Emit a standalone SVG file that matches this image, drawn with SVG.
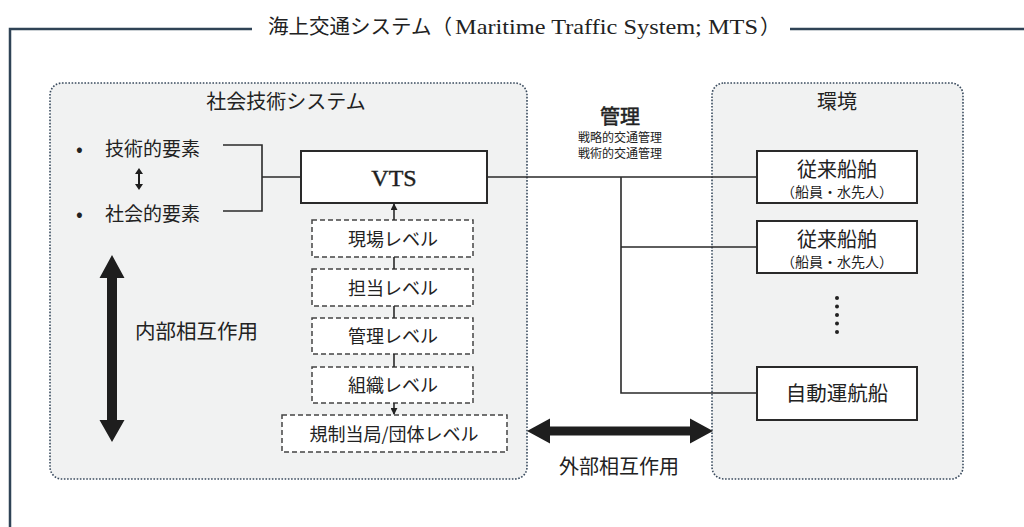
<svg xmlns="http://www.w3.org/2000/svg" width="1024" height="527" viewBox="0 0 1024 527">
  <defs>
    <marker id="tip" viewBox="0 0 8 8" refX="7" refY="4" markerWidth="7" markerHeight="7" markerUnits="userSpaceOnUse" orient="auto">
      <path d="M0,0 L8,4 L0,8 Z" fill="#222"/>
    </marker>
    <style>
      .frame { fill: none; stroke: #2f4356; stroke-width: 2.5; }
      .panel { fill: #f1f2f2; stroke: #3a4b5e; stroke-width: 1.6; stroke-dasharray: 1.6 1.6; }
      .box { fill: #fff; stroke: #2a2a2a; stroke-width: 2; }
      .level { fill: #fff; stroke: #444; stroke-width: 1.5; stroke-dasharray: 5 3; }
      .wire { fill: none; stroke: #2a2a2a; stroke-width: 1.6; }
      .jp { font-family: "Noto Sans CJK JP", "Noto Sans", sans-serif; fill: #222; }
      .serif { font-family: "Liberation Serif", "DejaVu Serif", serif; fill: #222; }
      .c { text-anchor: middle; }
      .big { font-size: 20px; }
      .mid { font-size: 18px; }
      .sub { font-size: 14px; }
      .tiny { font-size: 12px; }
      .thick { fill: #1e1e1e; }
    </style>
  </defs>
  <rect width="1024" height="527" fill="#fff"/>

  <!-- outer system frame with its title -->
  <g id="mts-frame">
    <path class="frame" d="M252,29 H10 V527"/>
    <path class="frame" d="M790,29 H1024"/>
    <text class="jp" x="268" y="34" font-size="20.5">海上交通システム（</text>
    <text class="serif" x="455" y="34" font-size="22" textLength="303" lengthAdjust="spacingAndGlyphs">Maritime Traffic System; MTS</text>
    <text class="jp" x="760" y="34" font-size="20.5">）</text>
  </g>

  <!-- socio-technical system panel -->
  <g id="sociotech-panel">
    <rect class="panel" x="50" y="83" width="477" height="396" rx="12"/>
    <text class="jp c big" x="286" y="109">社会技術システム</text>
  </g>

  <!-- environment panel -->
  <g id="environment-panel">
    <rect class="panel" x="712" y="83" width="251" height="396" rx="12"/>
    <text class="jp c big" x="837" y="109">環境</text>
  </g>

  <g id="elements">
    <text class="jp big" x="76" y="156">•</text>
    <text class="jp" x="105" y="156" font-size="19">技術的要素</text>
    <text class="jp big" x="76" y="221">•</text>
    <text class="jp" x="105" y="221" font-size="19">社会的要素</text>
    <path class="thick" d="M139,168 L143,174 L140,174 L140,184 L143,184 L139,190 L135,184 L138,184 L138,174 L135,174 Z"/>
  </g>

  <g id="vts">
    <rect class="box" x="301" y="151" width="186" height="52"/>
    <text class="c" x="394" y="186" font-family="Liberation Serif, serif" font-size="24" fill="#1e1e1e" stroke="#1e1e1e" stroke-width="0.4">VTS</text>
  </g>

  <g id="level-field">
    <rect class="level" x="312" y="220" width="161" height="37"/>
    <text class="jp c mid" x="393" y="246">現場レベル</text>
  </g>
  <g id="level-duty">
    <rect class="level" x="312" y="269" width="161" height="37"/>
    <text class="jp c mid" x="393" y="295">担当レベル</text>
  </g>
  <g id="level-management">
    <rect class="level" x="312" y="318" width="161" height="36"/>
    <text class="jp c mid" x="393" y="343">管理レベル</text>
  </g>
  <g id="level-organization">
    <rect class="level" x="312" y="367" width="161" height="36"/>
    <text class="jp c mid" x="393" y="392">組織レベル</text>
  </g>
  <g id="level-regulator">
    <rect class="level" x="282" y="415" width="225" height="37"/>
    <text class="jp c mid" x="394" y="441">規制当局/団体レベル</text>
  </g>

  <g id="internal-interaction">
    <polygon class="thick" points="112,255 124.5,278 117,278 117,420 124.5,420 112,442 99.5,420 107,420 107,278 99.5,278"/>
    <text class="jp" x="135" y="339" font-size="20.5">内部相互作用</text>
  </g>

  <g id="external-interaction">
    <polygon class="thick" points="527,431 550,418.5 550,426.5 690,426.5 690,418.5 713,431 690,443.5 690,435.5 550,435.5 550,443.5"/>
    <text class="jp c big" x="619" y="474">外部相互作用</text>
  </g>

  <g id="management-label">
    <text class="jp c big" x="620" y="124" stroke="#222" stroke-width="0.5">管理</text>
    <text class="jp c tiny" x="620" y="142">戦略的交通管理</text>
    <text class="jp c tiny" x="620" y="158">戦術的交通管理</text>
  </g>

  <g id="ship-conventional-1">
    <rect class="box" x="757" y="151" width="160" height="52"/>
    <text class="jp c big" x="837" y="177">従来船舶</text>
    <text class="jp c sub" x="837" y="197">（船員・水先人）</text>
  </g>
  <g id="ship-conventional-2">
    <rect class="box" x="757" y="221" width="160" height="52"/>
    <text class="jp c big" x="837" y="247">従来船舶</text>
    <text class="jp c sub" x="837" y="267">（船員・水先人）</text>
  </g>
  <g id="ellipsis">
    <circle cx="837" cy="298" r="2" fill="#222"/>
    <circle cx="837" cy="306.5" r="2" fill="#222"/>
    <circle cx="837" cy="315" r="2" fill="#222"/>
    <circle cx="837" cy="323.5" r="2" fill="#222"/>
    <circle cx="837" cy="332" r="2" fill="#222"/>
  </g>
  <g id="ship-autonomous">
    <rect class="box" x="757" y="367" width="160" height="53"/>
    <text class="jp c" x="837" y="401" font-size="20.5">自動運航船</text>
  </g>

  <!-- connectors -->
  <g id="connectors">
    <path class="wire" d="M223,145 H262 V211 H223 M262,177 H301"/>
    <path class="wire" d="M487,177 H757 M621,177 V393 H757 M621,247 H757"/>
    <path class="wire" d="M394,220 V204" marker-end="url(#tip)"/>
    <path class="wire" d="M394,257 V269 M394,306 V318 M394,354 V367"/>
    <path class="wire" d="M394,403 V414" marker-end="url(#tip)"/>
  </g>
</svg>
